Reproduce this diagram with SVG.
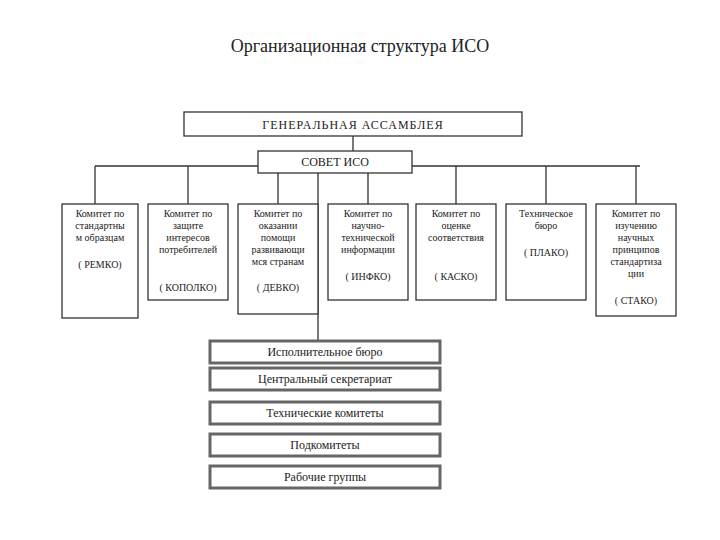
<svg xmlns="http://www.w3.org/2000/svg" width="720" height="540" viewBox="0 0 720 540">
<style>
text{font-family:'Liberation Serif','Times New Roman','DejaVu Serif',serif;fill:#222;text-anchor:middle}
.b{fill:#fff;stroke:#333;stroke-width:1.3}
.s{fill:#fff;stroke:#666;stroke-width:3}
.t{font-size:10px}
.m{font-size:12px}
.c{stroke:#333;stroke-width:1.3;fill:none}
</style>
<rect width="720" height="540" fill="#fff"/>
<text x="360" y="52" font-size="18" fill="#000">Организационная структура ИСО</text>
<g id="connectors">
<path class="c" d="M95 166H640M95 166V204M188 166V204M278 166V204M368 166V204M456 166V204M546 166V204M636 166V204M318 172V341M353 136V151"/>
</g>
<g id="assembly"><rect class="b" x="184" y="112" width="338" height="24"/><text class="m" x="353" y="129" letter-spacing="1">ГЕНЕРАЛЬНАЯ АССАМБЛЕЯ</text></g>
<g id="council"><rect class="b" x="258" y="151" width="154" height="22"/><text class="m" x="335" y="166">СОВЕТ ИСО</text></g>
<g id="remko"><rect class="b" x="62" y="204" width="76" height="114"/><text class="t" x="100" y="217">Комитет по</text><text class="t" x="100" y="229">стандартны</text><text class="t" x="100" y="241">м образцам</text><text class="t" x="100" y="268">( РЕМКО)</text></g>
<g id="kopolko"><rect class="b" x="148" y="204" width="80" height="96"/><text class="t" x="188" y="217">Комитет по</text><text class="t" x="188" y="229">защите</text><text class="t" x="188" y="241">интересов</text><text class="t" x="188" y="253">потребителей</text><text class="t" x="188" y="291">( КОПОЛКО)</text></g>
<g id="devko"><rect class="b" x="238" y="204" width="80" height="110"/><text class="t" x="278" y="217">Комитет по</text><text class="t" x="278" y="229">оказании</text><text class="t" x="278" y="241">помощи</text><text class="t" x="278" y="253">развивающи</text><text class="t" x="278" y="265">мся странам</text><text class="t" x="278" y="291">( ДЕВКО)</text></g>
<g id="infko"><rect class="b" x="328" y="204" width="80" height="96"/><text class="t" x="368" y="217">Комитет по</text><text class="t" x="368" y="229">научно-</text><text class="t" x="368" y="241">технической</text><text class="t" x="368" y="253">информации</text><text class="t" x="368" y="280">( ИНФКО)</text></g>
<g id="kasko"><rect class="b" x="416" y="204" width="80" height="96"/><text class="t" x="456" y="217">Комитет по</text><text class="t" x="456" y="229">оценке</text><text class="t" x="456" y="241">соответствия</text><text class="t" x="456" y="280">( КАСКО)</text></g>
<g id="plako"><rect class="b" x="506" y="204" width="80" height="96"/><text class="t" x="546" y="217">Техническое</text><text class="t" x="546" y="229">бюро</text><text class="t" x="546" y="256">( ПЛАКО)</text></g>
<g id="stako"><rect class="b" x="596" y="204" width="80" height="112"/><text class="t" x="636" y="217">Комитет по</text><text class="t" x="636" y="229">изучению</text><text class="t" x="636" y="241">научных</text><text class="t" x="636" y="253">принципов</text><text class="t" x="636" y="265">стандартиза</text><text class="t" x="636" y="277">ции</text><text class="t" x="636" y="304">( СТАКО)</text></g>
<g id="exec"><rect class="s" x="210" y="341" width="230" height="22"/><text class="m" x="325" y="356" font-size="13">Исполнительное бюро</text></g>
<g id="secr"><rect class="s" x="210" y="368" width="230" height="22"/><text class="m" x="325" y="383" font-size="13">Центральный секретариат</text></g>
<g id="tc"><rect class="s" x="210" y="402" width="230" height="22"/><text class="m" x="325" y="417">Технические комитеты</text></g>
<g id="sc"><rect class="s" x="210" y="434" width="230" height="22"/><text class="m" x="325" y="449">Подкомитеты</text></g>
<g id="wg"><rect class="s" x="210" y="466" width="230" height="22"/><text class="m" x="325" y="481">Рабочие группы</text></g>
</svg>
